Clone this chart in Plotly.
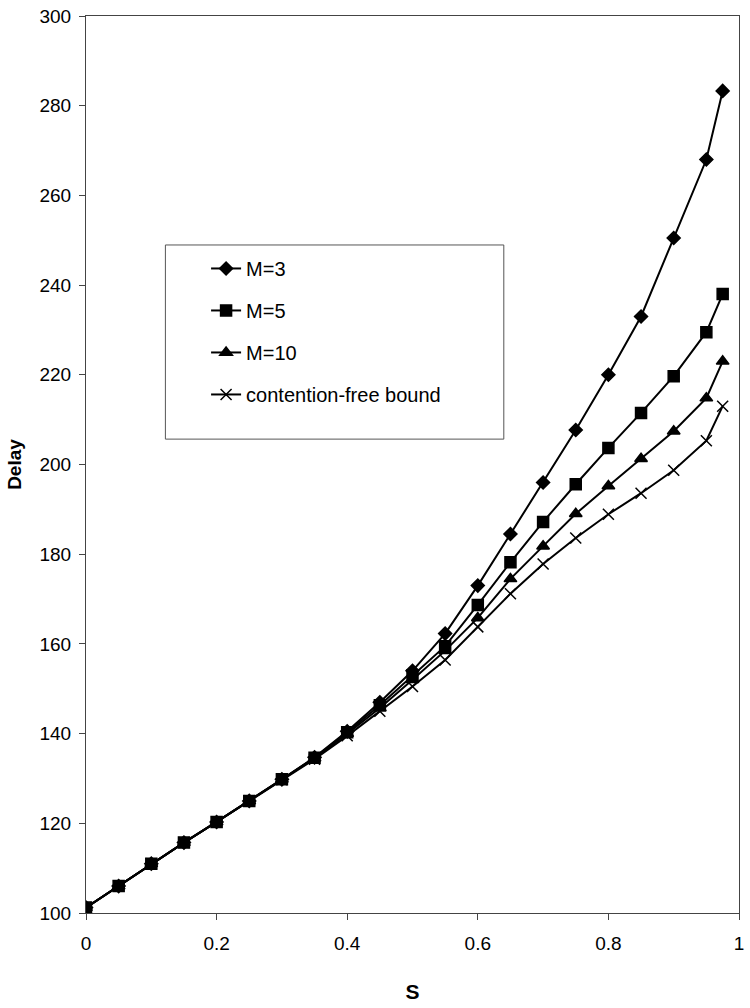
import plotly.graph_objects as go

s_values = [0, 0.05, 0.1, 0.15, 0.2, 0.25, 0.3, 0.35, 0.4, 0.45, 0.5,
            0.55, 0.6, 0.65, 0.7, 0.75, 0.8, 0.85, 0.9, 0.95, 0.975]

delay_m3 = [101.2, 106.0, 111.0, 115.7, 120.3, 125.0, 129.8, 134.7, 140.5, 147.0, 154.0,
            162.3, 173.0, 184.5, 196.0, 207.7, 220.0, 233.0, 250.5, 268.0, 283.3]
delay_m5 = [101.2, 106.0, 111.0, 115.7, 120.3, 125.0, 129.8, 134.6, 140.3, 146.3, 153.0,
            159.5, 168.7, 178.2, 187.2, 195.6, 203.7, 211.5, 219.7, 229.5, 238.0]
delay_m10 = [101.2, 106.0, 111.0, 115.7, 120.3, 125.0, 129.8, 134.5, 140.0, 145.7, 152.0,
             158.5, 165.8, 174.5, 181.8, 189.0, 195.2, 201.3, 207.4, 214.8, 223.0]
delay_bound = [101.2, 106.0, 111.0, 115.7, 120.3, 125.0, 129.7, 134.3, 139.5, 145.0, 150.5,
               156.4, 163.8, 171.2, 177.8, 183.6, 188.9, 193.6, 198.7, 205.3, 213.0]

series_names = ["M=3", "M=5", "M=10", "contention-free bound"]
series_values = [delay_m3, delay_m5, delay_m10, delay_bound]
series_symbols = ["diamond", "square", "triangle-up", "x-thin-open"]
series_sizes = [10, 11, 11, 11]

x_ticks = [0, 0.2, 0.4, 0.6, 0.8, 1]
x_tick_labels = ["0", "0.2", "0.4", "0.6", "0.8", "1"]
y_ticks = [100, 120, 140, 160, 180, 200, 220, 240, 260, 280, 300]

FONT = "Liberation Sans, Arial, Helvetica, sans-serif"

fig = go.Figure()
for i, (name, vals, sym, sz) in enumerate(zip(series_names, series_values, series_symbols, series_sizes)):
    fig.add_trace(go.Scatter(
        x=s_values, y=vals, name=name, mode="lines+markers",
        legendgroup=f"g{i}",
        line=dict(color="black", width=2),
        marker=dict(symbol=sym, size=sz, color="black",
                    line=dict(color="black", width=1.5)),
    ))

W, H = 750, 1008
PL, PR, PT, PB = 86, 744, 12, 913  # plot area in page pixels
L, T, R, B = PL, PT, W - PR, H - PB
pw, ph = PR - PL, PB - PT

def px_x(p):
    return (p - PL) / pw

def px_y(p):
    return (PB - p) / ph

# legend frame
fig.add_shape(type="rect", xref="paper", yref="paper",
              x0=px_x(166), x1=px_x(507), y0=px_y(437), y1=px_y(242),
              line=dict(color="#555", width=1), fillcolor="white", layer="below")

fig.update_layout(
    width=W, height=H,
    margin=dict(l=L, r=R, t=T, b=B),
    paper_bgcolor="white", plot_bgcolor="white",
    font=dict(family=FONT, size=19, color="black"),
    showlegend=True,
    legend=dict(x=px_x(207), y=px_y(246), xanchor="left", yanchor="top",
                bgcolor="rgba(0,0,0,0)", borderwidth=0,
                font=dict(family=FONT, size=20),
                tracegroupgap=13, traceorder="grouped",
                itemwidth=30),
    xaxis=dict(range=[0, 1], tickvals=x_ticks, ticktext=x_tick_labels,
               showgrid=False, zeroline=False,
               showline=True, linecolor="#444", linewidth=1, mirror=True,
               ticks="outside", ticklen=6, tickcolor="#444",
               ticklabelstandoff=7, ticklabeloverflow="allow",
               title=dict(text="<b>S</b>", font=dict(size=21), standoff=31)),
    yaxis=dict(range=[100, 300], tickvals=y_ticks,
               showgrid=False, zeroline=False,
               showline=True, linecolor="#444", linewidth=1, mirror=True,
               ticks="outside", ticklen=6, tickcolor="#444",
               ticklabelstandoff=4, ticklabeloverflow="allow",
               title=dict(text="<b>Delay</b>", font=dict(size=19), standoff=12)),
)

fig.write_html("out.html",
               config={"displayModeBar": False},
               post_script="document.body.style.margin='0';document.body.style.overflow='hidden';")
